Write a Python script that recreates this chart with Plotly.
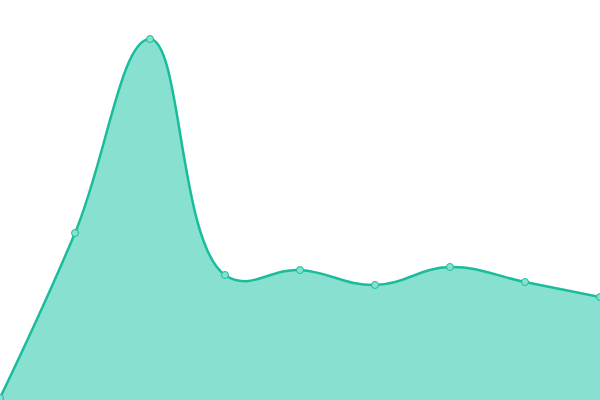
import plotly.graph_objects as go

# data
labels = list(range(9))
values = [2, 167, 361, 125, 130, 115, 133, 118, 103]

fig = go.Figure()
fig.add_trace(go.Scatter(
    x=labels, y=values,
    mode="lines+markers",
    fill="tozeroy",
    fillcolor="#88e0d0",
    line=dict(color="#1abc9c", width=2.5, shape="spline", smoothing=1.2),
    marker=dict(size=7, color="#88e0d0", line=dict(color="#1abc9c", width=1)),
    hoverinfo="skip",
))
fig.update_layout(
    width=600, height=400,
    margin=dict(l=0, r=0, t=0, b=0),
    paper_bgcolor="white", plot_bgcolor="white",
    showlegend=False,
)
fig.update_xaxes(visible=False, range=[0, 8])
fig.update_yaxes(visible=False, range=[0, 400])
# page has a default 8px body margin, drop it so the chart fills the window
fig.write_html("out.html", config={"displayModeBar": False},
               post_script="document.body.style.margin='0';")
